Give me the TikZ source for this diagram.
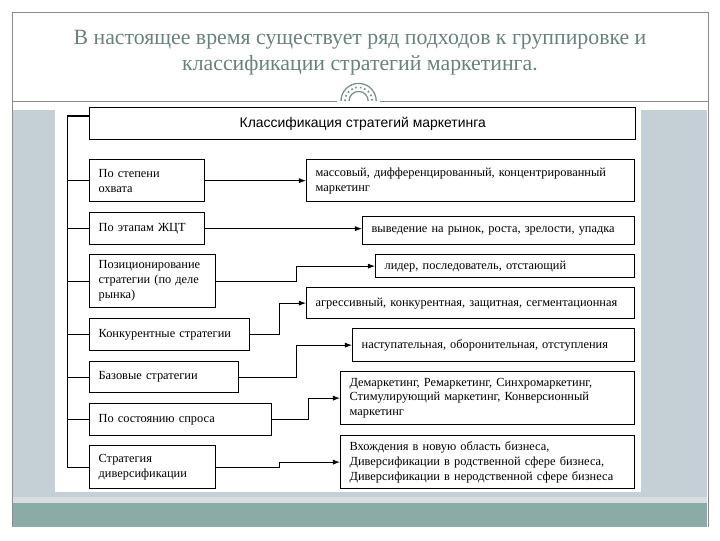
\documentclass[tikz,border=0pt]{standalone}
\usepackage{fontspec}
\setmainfont{Liberation Serif}
\newfontfamily\arialfont{Liberation Sans}
\usetikzlibrary{arrows.meta,positioning,calc}

\definecolor{slidegray}{RGB}{140,140,140}
\definecolor{titlegreen}{RGB}{105,130,125}
\definecolor{panelblue}{RGB}{197,207,214}
\definecolor{panellight}{RGB}{214,222,226}
\definecolor{bandteal}{RGB}{138,171,168}
\definecolor{archgreen}{RGB}{120,145,140}

\tikzset{
	crit/.style={draw, line width=0.9pt, anchor=north west, align=left,
		inner xsep=6.4pt, inner ysep=2pt,
		font=\fontsize{8.8}{10.6}\selectfont},
	kind/.style={crit},
	link/.style={line width=0.6pt, -{Latex[length=5pt,width=3.6pt]}},
	bus/.style={line width=0.6pt}
}

\begin{document}
\begin{tikzpicture}[x=0.025cm, y=-0.025cm]

		\useasboundingbox (0,0) rectangle (720,540);

		% Slide background
		\fill[panelblue] (12,110) rectangle (707,497);
		\fill[panellight] (12,497) rectangle (707,503);
		\fill[bandteal] (12,503) rectangle (707,527);
		\fill[white] (55,104) rectangle (641,492);
		\draw[slidegray, line width=0.6pt] (12,527) -- (12,12) -- (708,12) -- (708,527);
		\draw[slidegray, line width=0.6pt] (12,101) -- (337,101) (380,101) -- (708,101);

		% Ornament
		\draw[archgreen, line width=0.9pt] (341,101) arc[start angle=180, end angle=0, radius=0.44cm];
		\draw[archgreen, line width=0.9pt] (349,101) arc[start angle=180, end angle=0, radius=0.24cm];
		\draw[archgreen, line width=1.2pt, dotted] (345,101) arc[start angle=180, end angle=0, radius=0.34cm];

		% Heading
		\node[text=titlegreen, font=\fontsize{15.5}{19}\selectfont] (head1) at (360,40)
			{В настоящее время существует ряд подходов к группировке и};
		\node[text=titlegreen, font=\fontsize{15.5}{19}\selectfont] (head2) at (360,65)
			{классификации стратегий маркетинга.};

		% Title box
		\node[draw, line width=0.9pt, anchor=north west,
			minimum width=13.65cm, minimum height=0.8cm,
			font=\arialfont\fontsize{9.9}{12}\selectfont] (title) at (89,107)
			{Классификация стратегий маркетинга};

		% Criteria
		\node[crit, text width=2.425cm, minimum height=1.05cm] (crit1) at (89,159)
			{По степени\\охвата};
		\node[crit, text width=2.425cm, minimum height=0.8cm] (crit2) at (89,212)
			{По этапам ЖЦТ};
		\node[crit, text width=2.7cm, minimum height=1.325cm] (crit3) at (89,254)
			{Позиционирование\\стратегии (по деле\\рынка)};
		\node[crit, text width=3.55cm, minimum height=0.8cm] (crit4) at (89,318)
			{Конкурентные стратегии};
		\node[crit, text width=3.275cm, minimum height=0.775cm] (crit5) at (89,361)
			{Базовые стратегии};
		\node[crit, text width=4.1cm, minimum height=0.8cm] (crit6) at (89,403)
			{По состоянию спроса};
		\node[crit, text width=2.7cm, minimum height=1.075cm] (crit7) at (89,445)
			{Стратегия\\диверсификации};

		% Kinds
		\node[kind, text width=7.75cm, minimum height=1.05cm] (kind1) at (306,159)
			{массовый, дифференцированный, концентрированный\\маркетинг};
		\node[kind, text width=6.35cm, minimum height=0.7cm] (kind2) at (362,216)
			{выведение на рынок, роста, зрелости, упадка};
		\node[kind, text width=6.025cm, minimum height=0.575cm] (kind3) at (375,254)
			{лидер, последователь, отстающий};
		\node[kind, text width=7.75cm, minimum height=0.775cm] (kind4) at (306,287)
			{агрессивный, конкурентная, защитная, сегментационная};
		\node[kind, text width=6.6cm, minimum height=0.825cm] (kind5) at (352,328)
			{наступательная, оборонительная, отступления};
		\node[kind, text width=6.9cm, minimum height=1.325cm] (kind6) at (340,371)
			{Демаркетинг, Ремаркетинг, Синхромаркетинг,\\Стимулирующий маркетинг, Конверсионный\\маркетинг};
		\node[kind, text width=6.9cm, minimum height=1.325cm] (kind7) at (340,435)
			{Вхождения в новую область бизнеса,\\Диверсификации в родственной сфере бизнеса,\\Диверсификации в неродственной сфере бизнеса};

		% Left bus
		\coordinate (bus) at (67,116);
		\draw[line width=1.4pt] (bus) -- (bus -| title.west);
		\draw[bus] (bus) |- (crit7.west);
		\foreach \i in {1,...,6}
			\draw[bus] (bus |- crit\i.west) -- (crit\i.west);

		% Arrows
		\draw[link] (crit1.east) -- (crit1.east -| kind1.west);
		\draw[link] (crit2.east) -- (crit2.east -| kind2.west);
		\draw[link] (crit3.east) -- ++(80,0) |- (kind3.west);
		\draw[link] (crit4.east) -- ++(29,0) |- (kind4.west);
		\draw[link] (crit5.east) -- ++(57,0) |- (kind5.west);
		\draw[link] (crit6.east) -- ++(36,0) |- (kind6.west);
		\draw[link] (crit7.east) -- ++(63,0) |- (kind7.west);
	\end{tikzpicture}
\end{document}
